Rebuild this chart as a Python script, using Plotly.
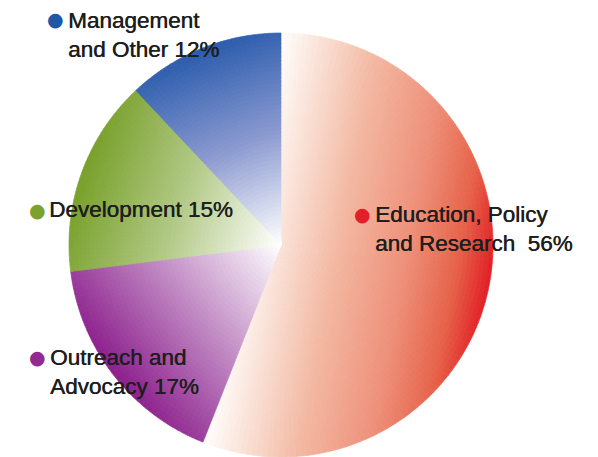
import numpy as np
import plotly.graph_objects as go

# ---------------- data ----------------
categories = ["Education, Policy and Research", "Outreach and Advocacy",
              "Development", "Management and Other"]
shares = [56, 17, 15, 12]
label_text = ["Education, Policy<br>and Research\u00a0 56%",
              "Outreach and<br>Advocacy 17%",
              "Development 15%",
              "Management<br>and Other 12%"]
dot_colors = ["#E2202A", "#932A91", "#7AA22F", "#1F57A7"]
ramps = [
    [(0.0, "#FFFFFF"), (0.1, "#FCEDE6"), (0.38, "#F3B9A3"), (0.66, "#EE907A"),
     (0.86, "#E6634A"), (1.0, "#E21E26")],
    [(0.0, "#FFFFFF"), (0.5, "#C28DC5"), (1.0, "#8C1F8C")],
    [(0.0, "#FFFFFF"), (0.5, "#B3CA88"), (1.0, "#78A02A")],
    [(0.0, "#FFFFFF"), (0.5, "#8D9BD1"), (1.0, "#2B5CAC")],
]

# ---------------- layout geometry ----------------
W, H = 598, 457
CX, CY, R = 281, 245, 212
N_RINGS = 50
SEG_DEG = 1.5
FONT = "Liberation Sans, Arial, sans-serif"
FONT_SIZE = 22.5
TEXT_COLOR = "#1E1E1E"


def hex2rgb(h):
    h = h.lstrip("#")
    return np.array([int(h[i:i + 2], 16) for i in (0, 2, 4)], dtype=float)


def ramp_color(ramp, t):
    t = min(max(t, 0.0), 1.0)
    for (t0, c0), (t1, c1) in zip(ramp[:-1], ramp[1:]):
        if t <= t1:
            f = (t - t0) / (t1 - t0) if t1 > t0 else 0
            c = hex2rgb(c0) * (1 - f) + hex2rgb(c1) * f
            return "rgb(%d,%d,%d)" % tuple(np.round(c))
    c = hex2rgb(ramp[-1][1])
    return "rgb(%d,%d,%d)" % tuple(c)


def clamp01(v):
    return min(max(v, 0.0), 1.0)


# angular segments derived from the shares
total = float(sum(shares))
seg_vals, seg_cat, seg_mid = [], [], []
bisectors, pmins = [], []
start = 0.0
for k, s in enumerate(shares):
    ang = 360.0 * s / total
    n = max(4, int(round(ang / SEG_DEG)))
    for j in range(n):
        seg_vals.append(ang / n)
        seg_cat.append(k)
        seg_mid.append(start + (j + 0.5) * ang / n)
    bisectors.append(start + ang / 2)
    # linear gradient along the bisector: from the slice's lowest projection to its rim
    pmins.append(min(0.0, np.cos(np.radians(ang / 2))))
    start += ang

fig = go.Figure()
radii = [R * (N_RINGS - i) / N_RINGS for i in range(N_RINGS)] + [0.0]
for i in range(N_RINGS):
    r_out = radii[i]
    r_mid = 0.5 * (radii[i] + radii[i + 1])
    cols = []
    for k, th in zip(seg_cat, seg_mid):
        proj = r_mid / R * np.cos(np.radians(th - bisectors[k]))
        t = (proj - pmins[k]) / (1.0 - pmins[k])
        cols.append(ramp_color(ramps[k], t))
    fig.add_trace(go.Pie(
        values=seg_vals,
        sort=False,
        direction="clockwise",
        rotation=0,
        textinfo="none",
        hoverinfo="skip",
        showlegend=False,
        marker=dict(colors=cols, line=dict(color=cols, width=0.7)),
        domain=dict(x=[clamp01((CX - r_out) / W), clamp01((CX + r_out) / W)],
                    y=[clamp01((H - CY - r_out) / H), clamp01((H - CY + r_out) / H)]),
    ))

# ---------------- labels ----------------
dot_pos = [(362, 214), (37, 357), (37, 210), (55, 19)]
text_pos = [(373, 229), (48, 372), (47, 210), (66, 35)]
annotations = []
for k in range(len(categories)):
    dx, dy = dot_pos[k]
    annotations.append(dict(
        text="\u25CF", x=dx / W, y=1 - dy / H, xref="paper", yref="paper",
        xanchor="center", yanchor="middle", showarrow=False,
        font=dict(family="DejaVu Sans", size=19, color=dot_colors[k])))
    tx, ty = text_pos[k]
    annotations.append(dict(
        text=label_text[k], x=tx / W, y=1 - ty / H, xref="paper", yref="paper",
        xanchor="left", yanchor="middle", align="left", showarrow=False,
        font=dict(family=FONT, size=FONT_SIZE, color=TEXT_COLOR,
                  shadow="0.45px 0px 0px " + TEXT_COLOR)))

fig.update_layout(
    width=W, height=H,
    margin=dict(l=0, r=0, t=0, b=0),
    paper_bgcolor="white", plot_bgcolor="white",
    showlegend=False,
    annotations=annotations,
)

fig.write_html("out.html")
